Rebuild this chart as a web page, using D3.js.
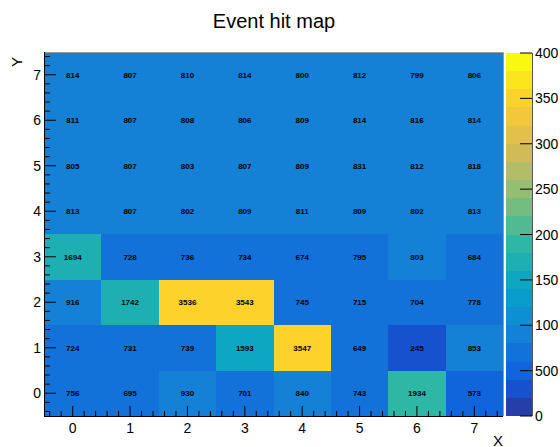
<!DOCTYPE html>
<html><head><meta charset="utf-8">
<script src="https://cdn.jsdelivr.net/npm/d3@7"></script>
<style>
html,body{margin:0;padding:0;background:#fff;overflow:hidden}
svg{display:block;font-family:"Liberation Sans",Arial,Helvetica,sans-serif}
</style></head>
<body>
<svg id="c" width="560" height="447"></svg>
<script>
// ---- data ----
const title = "Event hit map";
const xBins = [0,1,2,3,4,5,6,7];
const yBins = [0,1,2,3,4,5,6,7];
// rows indexed by y bin (0 = bottom), columns by x bin
const row0 = [756, 695, 930, 701, 840, 743, 1934, 573];
const row1 = [724, 731, 739, 1593, 3547, 649, 245, 853];
const row2 = [916, 1742, 3536, 3543, 745, 715, 704, 778];
const row3 = [1694, 728, 736, 734, 674, 795, 803, 684];
const row4 = [813, 807, 802, 809, 811, 809, 802, 813];
const row5 = [805, 807, 803, 807, 809, 831, 812, 818];
const row6 = [811, 807, 808, 806, 809, 814, 816, 814];
const row7 = [814, 807, 810, 814, 800, 812, 799, 806];
const rows = [row0,row1,row2,row3,row4,row5,row6,row7];
const zTicks = [0,500,1000,1500,2000,2500,3000,3500,4000];
const zMin = 0, zMax = 4000, nLevels = 20;

// ---- ROOT kBird palette ----
const stops = [0.0000,0.1250,0.2500,0.3750,0.5000,0.6250,0.7500,0.8750,1.0000];
const red   = [0.2082,0.0592,0.0780,0.0232,0.1802,0.5301,0.8186,0.9956,0.9764];
const green = [0.1664,0.3599,0.5041,0.6419,0.7178,0.7492,0.7328,0.7862,0.9832];
const blue  = [0.5293,0.8684,0.8385,0.7914,0.6425,0.4662,0.3499,0.1968,0.0539];
const NC = 255;
const palette = [];
for (let g = 1; g < stops.length; g++) {
  const n = Math.floor(NC*stops[g]) - Math.floor(NC*stops[g-1]);
  for (let c = 0; c < n; c++) {
    const f = c/n;
    const r = red[g-1] + (red[g]-red[g-1])*f;
    const gg = green[g-1] + (green[g]-green[g-1])*f;
    const b = blue[g-1] + (blue[g]-blue[g-1])*f;
    palette.push(d3.rgb(r*255, gg*255, b*255).formatHex());
  }
}
function levelColor(level){
  const idx = Math.min(palette.length-1, Math.floor((level+0.99)*palette.length/nLevels));
  return palette[idx];
}
function valueColor(v){
  let lev = Math.floor(0.01 + (v - zMin)*nLevels/(zMax-zMin));
  lev = Math.max(0, Math.min(nLevels-1, lev));
  return levelColor(lev);
}

// ---- layout ----
const L = 44, R = 503, T = 52, B = 416;
const svg = d3.select("#c");
const x = d3.scaleLinear().domain([-0.5, 7.5]).range([L, R]);
const y = d3.scaleLinear().domain([-0.5, 7.5]).range([B, T]);

// cells
const cells = [];
yBins.forEach((yb,j)=>xBins.forEach((xb,i)=>cells.push({x:xb,y:yb,v:rows[j][i]})));
svg.append("g").attr("shape-rendering","crispEdges").selectAll("rect").data(cells).join("rect")
  .attr("x", d=>Math.round(x(d.x-0.5))).attr("y", d=>Math.round(y(d.y+0.5)))
  .attr("width", d=>Math.round(x(d.x+0.5))-Math.round(x(d.x-0.5)))
  .attr("height", d=>Math.round(y(d.y-0.5))-Math.round(y(d.y+0.5)))
  .attr("fill", d=>valueColor(d.v));
svg.append("g").selectAll("text").data(cells).join("text")
  .attr("x", d=>x(d.x)).attr("y", d=>y(d.y))
  .attr("dy","0.35em").attr("text-anchor","middle")
  .attr("font-size","8px").attr("font-weight","bold").attr("fill","#000")
  .text(d=>d.v);

// frame
svg.append("path").attr("d",`M${L},${T+0.5}H${R+0.5}V${B}`).attr("fill","none").attr("stroke","#999").attr("stroke-width",1);

// x axis
const minor = d3.range(-2, 38).map(i=>i/5).filter(v=>Math.abs(v-Math.round(v))>1e-6);
const xg = svg.append("g");
xg.append("line").attr("x1",L).attr("x2",R).attr("y1",B+0.5).attr("y2",B+0.5).attr("stroke","#000");
xg.selectAll(".mj").data(xBins).join("line")
  .attr("x1",d=>x(d)).attr("x2",d=>x(d)).attr("y1",B).attr("y2",B-10).attr("stroke","#000");
xg.selectAll(".mn").data(minor).join("line").attr("class","mn")
  .attr("x1",d=>x(d)).attr("x2",d=>x(d)).attr("y1",B).attr("y2",B-5).attr("stroke","#000");
xg.selectAll("text").data(xBins).join("text")
  .attr("x",d=>x(d)).attr("y",B+17).attr("text-anchor","middle")
  .attr("font-size","14px").attr("fill","#000").text(d=>d);
svg.append("text").attr("x",R).attr("y",445.5).attr("text-anchor","end")
  .attr("font-size","15px").text("X");

// y axis
const yg = svg.append("g");
yg.append("line").attr("x1",L+0.5).attr("x2",L+0.5).attr("y1",T).attr("y2",B).attr("stroke","#000");
yg.selectAll(".mj").data(yBins).join("line")
  .attr("y1",d=>y(d)).attr("y2",d=>y(d)).attr("x1",L).attr("x2",L+12).attr("stroke","#000");
yg.selectAll(".mn").data(minor).join("line").attr("class","mn")
  .attr("y1",d=>y(d)).attr("y2",d=>y(d)).attr("x1",L).attr("x2",L+6).attr("stroke","#000");
yg.selectAll("text").data(yBins).join("text")
  .attr("x",L-3).attr("y",d=>y(d)).attr("dy","0.36em").attr("text-anchor","end")
  .attr("font-size","14px").attr("fill","#000").text(d=>d);
svg.append("text").attr("transform",`translate(22,${T+5}) rotate(-90)`).attr("text-anchor","end")
  .attr("font-size","15px").text("Y");

// title
svg.append("text").attr("x",274).attr("y",28).attr("text-anchor","middle")
  .attr("font-size","20px").attr("fill","#000").text(title);

// colour bar
const CL = 506, CR = 532;
const z = d3.scaleLinear().domain([zMin, zMax]).range([B, T+1]);
const levels = d3.range(nLevels);
const step = (zMax-zMin)/nLevels;
svg.append("g").attr("shape-rendering","crispEdges").selectAll("rect").data(levels).join("rect")
  .attr("x",CL).attr("width",CR-CL)
  .attr("y",d=>Math.round(z(zMin+(d+1)*step))).attr("height",d=>Math.round(z(zMin+d*step))-Math.round(z(zMin+(d+1)*step)))
  .attr("fill",d=>levelColor(d));
const cg = svg.append("g");
cg.append("line").attr("x1",CR+0.5).attr("x2",CR+0.5).attr("y1",T+1).attr("y2",B).attr("stroke","#555");
cg.selectAll(".zt").data(zTicks).join("line")
  .attr("x1",CR).attr("x2",CR-12).attr("y1",d=>z(d)).attr("y2",d=>z(d)).attr("stroke","#000");
// the pad edge clips the palette labels, as in the reference
svg.append("clipPath").attr("id","padclip").append("rect")
  .attr("x",0).attr("y",0).attr("width",558).attr("height",447);
cg.append("g").attr("clip-path","url(#padclip)").selectAll("text").data(zTicks).join("text")
  .attr("x",CR+3).attr("y",d=>z(d)).attr("dy","0.36em")
  .attr("font-size","14px").attr("fill","#000").text(d=>d);
</script>
</body></html>
